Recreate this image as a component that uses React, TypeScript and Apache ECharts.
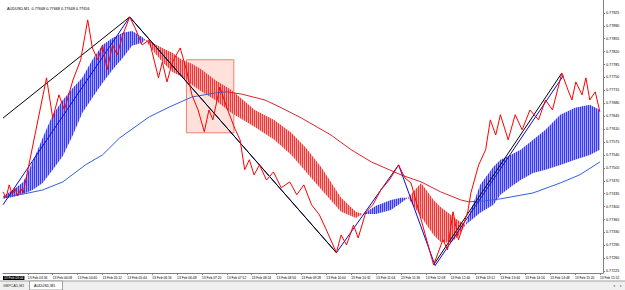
import React, { useEffect, useRef } from "react";
import * as echarts from "echarts";

// ---------- data ----------
const chartTitle = "AUDUSD,M1  0.77668 0.77668 0.77648 0.77656";
const dateText = "13 Feb";

const timeTickLabels = [
  "03:36", "04:08", "04:40", "05:12", "05:44", "06:16", "06:48", "07:20", "07:52",
  "08:24", "08:56", "09:28", "10:00", "10:32", "11:04", "11:36", "12:08", "12:40",
  "13:12", "13:44", "14:16", "14:48", "15:20", "15:52",
];
const cursorTimeLabel = "03:04";

const priceTickLabels = [
  "0.77225", "0.77260", "0.77295", "0.77330", "0.77365", "0.77400", "0.77435",
  "0.77470", "0.77505", "0.77540", "0.77575", "0.77610", "0.77645", "0.77680",
  "0.77715", "0.77750", "0.77785", "0.77820", "0.77855", "0.77890", "0.77925",
];

const highLevel = 0.77904;
const bidLevel = 0.77656;

// fast zigzag / price path (red)
const priceTimes = [
  "03:04", "03:08", "03:12", "03:16", "03:19", "03:23", "03:27", "03:30", "04:00", "04:08",
  "04:16", "04:23", "04:34", "04:44", "04:53", "04:59", "05:06", "05:12", "05:18", "05:25",
  "05:31", "05:38", "05:47", "05:54", "06:03", "06:12", "06:19", "06:24", "06:29", "06:35",
  "06:42", "06:52", "07:00", "07:07", "07:15", "07:23", "07:29", "07:34", "07:43", "07:52",
  "08:02", "08:09", "08:15", "08:21", "08:27", "08:34", "08:43", "08:52", "09:02", "09:13",
  "09:22", "09:31", "09:41", "09:51", "10:00", "10:13", "10:19", "10:26", "10:35", "10:41",
  "10:51", "11:00", "11:10", "11:21", "11:33", "11:41", "11:49", "12:18", "12:30", "12:36",
  "12:43", "12:50", "13:02", "13:06", "13:16", "13:25", "13:31", "13:38", "13:44", "13:54",
  "14:03", "14:12", "14:22", "14:33", "14:42", "14:51", "15:03", "15:11", "15:16", "15:21",
  "15:29", "15:34", "15:39", "15:46", "15:52",
];
const priceValues = [
  0.77440, 0.77424, 0.77459, 0.77432, 0.77451, 0.77429, 0.77448, 0.77437, 0.77749, 0.77640,
  0.77703, 0.77662, 0.77743, 0.77798, 0.77906, 0.77830, 0.77798, 0.77838, 0.77771, 0.77838,
  0.77811, 0.77865, 0.77914, 0.77884, 0.77838, 0.77852, 0.77792, 0.77749, 0.77792, 0.77738,
  0.77792, 0.77830, 0.77771, 0.77703, 0.77662, 0.77603, 0.77662, 0.77635, 0.77724, 0.77668,
  0.77613, 0.77581, 0.77500, 0.77527, 0.77486, 0.77513, 0.77472, 0.77494, 0.77451, 0.77467,
  0.77432, 0.77459, 0.77405, 0.77378, 0.77337, 0.77275, 0.77323, 0.77296, 0.77350, 0.77315,
  0.77386, 0.77405, 0.77445, 0.77472, 0.77513, 0.77478, 0.77464, 0.77242, 0.77310, 0.77283,
  0.77386, 0.77310, 0.77386, 0.77437, 0.77513, 0.77554, 0.77635, 0.77594, 0.77649, 0.77581,
  0.77649, 0.77608, 0.77662, 0.77635, 0.77689, 0.77662, 0.77762, 0.77716, 0.77689, 0.77738,
  0.77703, 0.77749, 0.77689, 0.77711, 0.77657,
];

// fast / slow moving averages forming the hatched band
const bandTimes = [
  "03:04", "03:17", "03:30", "03:42", "03:55", "04:08", "04:21", "04:34", "04:46", "04:59",
  "05:12", "05:25", "05:38", "05:50", "06:03", "06:07", "06:16", "06:29", "06:42", "06:54",
  "07:07", "07:20", "07:37", "07:58", "08:28", "08:53", "09:15", "09:34", "09:54", "10:19",
  "10:38", "10:47", "11:04", "11:23", "11:36", "11:45", "12:02", "12:18", "12:27", "12:40",
  "12:49", "12:59", "13:18", "13:35", "13:44", "13:57", "14:10", "14:26", "14:42", "15:01",
  "15:20", "15:39", "15:52",
];
const bandFast = [
  0.77429, 0.77445, 0.77467, 0.77521, 0.77586, 0.77649, 0.77689, 0.77722, 0.77749, 0.77798,
  0.77838, 0.77857, 0.77871, 0.77876, 0.77860, 0.77852, 0.77825, 0.77792, 0.77765, 0.77752,
  0.77730, 0.77711, 0.77689, 0.77654, 0.77616, 0.77581, 0.77540, 0.77494, 0.77445, 0.77386,
  0.77369, 0.77380, 0.77402, 0.77418, 0.77424, 0.77424, 0.77372, 0.77323, 0.77304, 0.77302,
  0.77318, 0.77350, 0.77459, 0.77508, 0.77527, 0.77540, 0.77554, 0.77581, 0.77608, 0.77649,
  0.77668, 0.77676, 0.77662,
];
const bandSlow = [
  0.77421, 0.77426, 0.77434, 0.77445, 0.77464, 0.77500, 0.77537, 0.77594, 0.77654, 0.77695,
  0.77735, 0.77771, 0.77803, 0.77836, 0.77844, 0.77852, 0.77844, 0.77830, 0.77817, 0.77798,
  0.77787, 0.77771, 0.77743, 0.77716, 0.77662, 0.77635, 0.77600, 0.77559, 0.77505, 0.77424,
  0.77386, 0.77380, 0.77380, 0.77391, 0.77410, 0.77424, 0.77464, 0.77418, 0.77399, 0.77378,
  0.77364, 0.77350, 0.77383, 0.77405, 0.77432, 0.77453, 0.77472, 0.77491, 0.77500, 0.77513,
  0.77527, 0.77540, 0.77554,
];

// long moving average (blue when rising, red when falling)
const maTimes = [
  "03:04", "03:30", "03:55", "04:21", "04:50", "05:12", "05:34", "06:12", "06:38", "07:07",
  "07:37", "07:52", "08:11", "08:41", "09:02", "09:28", "10:06", "10:32", "10:58", "11:36",
  "12:02", "12:27", "12:53", "13:03", "13:22", "13:44", "14:26", "15:01", "15:26", "15:52",
];
const maValues = [
  0.77426, 0.77434, 0.77445, 0.77467, 0.77513, 0.77540, 0.77586, 0.77643, 0.77670, 0.77697,
  0.77708, 0.77711, 0.77705, 0.77689, 0.77668, 0.77640, 0.77594, 0.77554, 0.77521, 0.77486,
  0.77467, 0.77440, 0.77418, 0.77413, 0.77415, 0.77421, 0.77437, 0.77464, 0.77486, 0.77521,
];

// major swings (black) and medium swings (blue)
const blackZigATimes = ["03:04", "05:47", "10:13"];
const blackZigAValues = [0.77640, 0.77914, 0.77275];
const blackZigBTimes = ["12:18", "15:03"];
const blackZigBValues = [0.77242, 0.77762];
const blueZigTimes = ["03:04", "05:47", "10:13", "11:33", "12:20", "15:05"];
const blueZigValues = [0.77405, 0.77914, 0.77275, 0.77513, 0.77240, 0.77755];

// highlighted rectangle
const rectTimes = ["07:00", "08:01"];
const rectValues = [0.77798, 0.77600];

// ---------- helpers ----------
const toMin = (s: string) => {
  const [h, m] = s.split(":").map(Number);
  return h * 60 + m;
};
const pad = (n: number) => String(n).padStart(2, "0");
const fmtTime = (v: number) => {
  const r = Math.round(v);
  return `${dateText} ${pad(Math.floor(r / 60))}:${pad(r % 60)}`;
};
const pairs = (ts: string[], vs: number[]) => ts.map((t, i) => [toMin(t), vs[i]]);

function stripe(c1: string, c2: string) {
  const cv = document.createElement("canvas");
  cv.width = 2;
  cv.height = 1;
  const ctx = cv.getContext("2d")!;
  ctx.fillStyle = c1;
  ctx.fillRect(0, 0, 1, 1);
  ctx.fillStyle = c2;
  ctx.fillRect(1, 0, 1, 1);
  return { image: cv, repeat: "repeat", imageWidth: 2, imageHeight: 1 } as any;
}

// build band regions (fast above slow -> blue, below -> red)
function bandRegions() {
  const pts = bandTimes.map((t, i) => ({ t: toMin(t), f: bandFast[i], s: bandSlow[i] }));
  const regions: { up: boolean; fast: number[][]; slow: number[][] }[] = [];
  let cur: { up: boolean; fast: number[][]; slow: number[][] } | null = null;
  for (let i = 0; i < pts.length; i++) {
    const p = pts[i];
    const d = p.f - p.s;
    if (!cur) {
      cur = { up: d >= 0, fast: [[p.t, p.f]], slow: [[p.t, p.s]] };
      continue;
    }
    const q = pts[i - 1];
    const dq = q.f - q.s;
    const up = d > 0 ? true : d < 0 ? false : cur.up;
    if (up !== cur.up && dq !== 0 && d !== 0) {
      const r = dq / (dq - d);
      const tc = q.t + r * (p.t - q.t);
      const pc = q.f + r * (p.f - q.f);
      cur.fast.push([tc, pc]);
      cur.slow.push([tc, pc]);
      regions.push(cur);
      cur = { up, fast: [[tc, pc], [p.t, p.f]], slow: [[tc, pc], [p.t, p.s]] };
    } else if (d === 0) {
      cur.fast.push([p.t, p.f]);
      cur.slow.push([p.t, p.s]);
      regions.push(cur);
      const nxt = pts[i + 1];
      const nd = nxt ? nxt.f - nxt.s : 0;
      cur = { up: nd >= 0, fast: [[p.t, p.f]], slow: [[p.t, p.s]] };
    } else {
      cur.fast.push([p.t, p.f]);
      cur.slow.push([p.t, p.s]);
    }
  }
  if (cur && cur.fast.length > 1) regions.push(cur);
  return regions;
}

export default function App() {
  const ref = useRef<HTMLDivElement>(null);

  useEffect(() => {
    document.body.style.margin = "0";
    const chart = echarts.init(ref.current!, null, { renderer: "svg" });

    const blueFill = stripe("#3838f0", "#a8a8f8");
    const redFill = stripe("#ec3a3a", "#f7aaaa");
    const regions = bandRegions();

    const maData = pairs(maTimes, maValues);
    let peakIdx = 0;
    maValues.forEach((v, i) => {
      if (v > maValues[peakIdx]) peakIdx = i;
    });
    let troughIdx = peakIdx;
    maValues.forEach((v, i) => {
      if (i > peakIdx && v < maValues[troughIdx]) troughIdx = i;
    });
    const peakT = toMin(maTimes[peakIdx]);
    const troughT = toMin(maTimes[troughIdx]);

    const font = "Liberation Sans";
    const xMin = toMin("03:04");
    const xMax = toMin("15:56");

    chart.setOption({
      animation: false,
      textStyle: { fontFamily: font },
      title: {
        text: chartTitle,
        left: 2,
        top: 2,
        textStyle: { fontSize: 3.8, fontWeight: "normal", color: "#000", fontFamily: font },
      },
      grid: { left: 0, right: 22, top: 0, bottom: 17, show: false },
      xAxis: {
        type: "value",
        min: xMin,
        max: xMax,
        axisLine: { show: true, lineStyle: { color: "#808080", width: 1 } },
        axisTick: {
          show: true,
          length: 2,
          lineStyle: { color: "#808080" },
          customValues: timeTickLabels.map(toMin),
        },
        axisLabel: {
          customValues: [toMin(cursorTimeLabel), ...timeTickLabels.map(toMin)],
          formatter: (v: number) =>
            Math.round(v) === toMin(cursorTimeLabel) ? `{hl|${fmtTime(v)}}` : fmtTime(v),
          fontSize: 3.3,
          color: "#000",
          align: "left",
          margin: 3,
          hideOverlap: false,
          showMinLabel: true,
          showMaxLabel: true,
          rich: {
            hl: { backgroundColor: "#000", color: "#fff", fontSize: 3.3, padding: [0.5, 1] },
          },
        },
        splitLine: { show: false },
      },
      yAxis: {
        type: "value",
        position: "right",
        min: 0.7722,
        max: 0.7796,
        scale: true,
        axisLine: { show: true, lineStyle: { color: "#808080", width: 1 } },
        axisTick: {
          show: true,
          length: 2,
          inside: false,
          lineStyle: { color: "#808080" },
          customValues: priceTickLabels.map(Number),
        },
        axisLabel: {
          customValues: priceTickLabels.map(Number),
          formatter: (v: number) => v.toFixed(5),
          fontSize: 3.7,
          color: "#000",
          margin: 3,
        },
        splitLine: { show: false },
      },
      visualMap: [
        {
          type: "piecewise",
          show: false,
          dimension: 0,
          seriesIndex: 2,
          pieces: [
            { lt: peakT, color: "#2f5fe0" },
            { gte: peakT, lt: troughT, color: "#e0202c" },
            { gte: troughT, color: "#2f5fe0" },
          ],
        },
      ],
      series: [
        {
          type: "line",
          data: [],
          silent: true,
          z: 1,
          markArea: {
            silent: true,
            itemStyle: { color: "rgba(252, 200, 188, 0.55)", borderColor: "#f0806a", borderWidth: 1 },
            data: [
              [
                { coord: [toMin(rectTimes[0]), rectValues[0]] },
                { coord: [toMin(rectTimes[1]), rectValues[1]] },
              ],
            ],
          },
          markLine: {
            silent: true,
            symbol: "none",
            lineStyle: { color: "#b8b8b8", type: "solid", width: 1 },
            label: {
              position: "end",
              distance: 3,
              formatter: (p: any) => Number(p.value).toFixed(5),
              backgroundColor: "#000",
              color: "#fff",
              fontSize: 3.7,
              padding: [0.6, 1.2],
            },
            data: [{ yAxis: highLevel }, { yAxis: bidLevel }],
          },
        },
        {
          type: "custom",
          z: 2,
          silent: true,
          clip: true,
          data: regions.map((r) => r.fast[0]),
          encode: { x: 0, y: 1 },
          renderItem: (params: any, api: any) => {
            const r = regions[params.dataIndex];
            const poly = [...r.fast, ...r.slow.slice().reverse()].map((p) => api.coord(p));
            return {
              type: "polygon",
              shape: { points: poly },
              style: { fill: r.up ? blueFill : redFill, stroke: null },
            };
          },
        },
        {
          type: "line",
          z: 3,
          data: maData,
          showSymbol: false,
          silent: true,
          lineStyle: { width: 1 },
        },
        {
          type: "line",
          z: 4,
          data: pairs(blueZigTimes, blueZigValues),
          showSymbol: false,
          silent: true,
          lineStyle: { width: 1, color: "#0a0ad8" },
        },
        {
          type: "line",
          z: 5,
          data: pairs(blackZigATimes, blackZigAValues),
          showSymbol: false,
          silent: true,
          lineStyle: { width: 1, color: "#000" },
        },
        {
          type: "line",
          z: 5,
          data: pairs(blackZigBTimes, blackZigBValues),
          showSymbol: false,
          silent: true,
          lineStyle: { width: 1, color: "#000" },
        },
        {
          type: "line",
          z: 6,
          data: pairs(priceTimes, priceValues),
          showSymbol: false,
          silent: true,
          lineStyle: { width: 1, color: "#ff0000" },
        },
      ],
      graphic: [
        {
          type: "rect",
          shape: { x: 0, y: 281, width: 625, height: 9 },
          style: { fill: "#f0f0f0", stroke: null },
          silent: true,
        },
        {
          type: "line",
          shape: { x1: 0, y1: 281, x2: 625, y2: 281 },
          style: { stroke: "#a0a0a0", lineWidth: 1 },
          silent: true,
        },
        {
          type: "text",
          x: 3,
          y: 283.5,
          style: { text: "GBPCAD,M1", fontSize: 3.6, fill: "#333", fontFamily: font },
          silent: true,
        },
        {
          type: "rect",
          shape: { x: 29.5, y: 281, width: 33, height: 9 },
          style: { fill: "#fff", stroke: "#a0a0a0", lineWidth: 1 },
          silent: true,
        },
        {
          type: "text",
          x: 34,
          y: 283.5,
          style: { text: "AUDUSD,M1", fontSize: 3.6, fill: "#000", fontFamily: font },
          silent: true,
        },
        {
          type: "text",
          x: 613,
          y: 283.5,
          style: { text: "◂", fontSize: 4, fill: "#808080", fontFamily: font },
          silent: true,
        },
        {
          type: "text",
          x: 620,
          y: 283.5,
          style: { text: "▸", fontSize: 4, fill: "#808080", fontFamily: font },
          silent: true,
        },
      ],
    });

    return () => chart.dispose();
  }, []);

  return (
    <div
      ref={ref}
      style={{ position: "absolute", left: 0, top: 0, width: 625, height: 290, background: "#fff" }}
    />
  );
}
